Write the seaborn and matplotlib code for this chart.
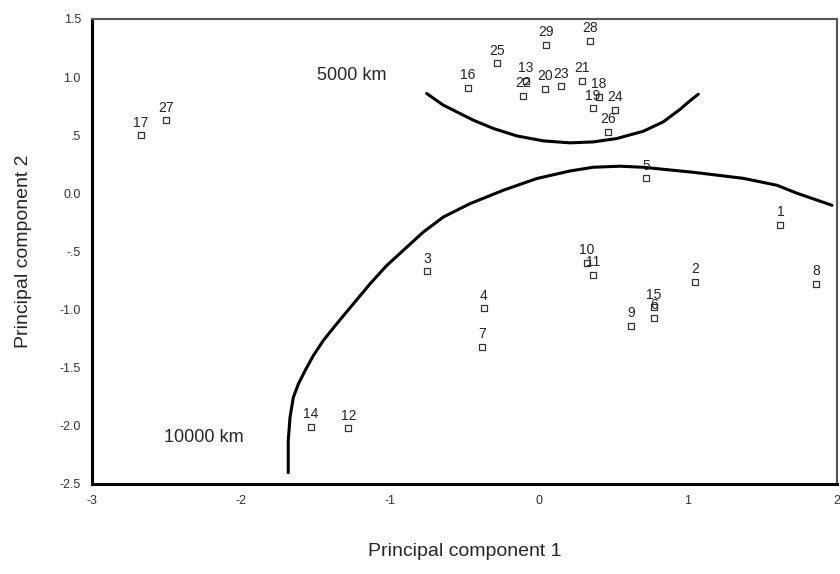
import numpy as np
import pandas as pd
import matplotlib
matplotlib.use('Agg')
import matplotlib.pyplot as plt
import seaborn as sns

# Case numbers and their scores on the first two principal components
case_ids = [1, 2, 3, 4, 5, 6, 7, 8, 9, 10,
            11, 12, 13, 14, 15, 16, 17, 18, 19, 20,
            21, 22, 23, 24, 25, 26, 27, 28, 29]
pc1 = [1.62, 1.05, -0.75, -0.37, 0.72, 0.77, -0.38, 1.86, 0.62, 0.32,
       0.36, -1.28, -0.09, -1.53, 0.77, -0.48, -2.67, 0.40, 0.36, 0.04,
       0.29, -0.11, 0.15, 0.51, -0.28, 0.46, -2.50, 0.34, 0.05]
pc2 = [-0.27, -0.76, -0.67, -0.99, 0.13, -1.07, -1.32, -0.78, -1.14, -0.60,
       -0.70, -2.02, 0.97, -2.01, -0.98, 0.91, 0.50, 0.83, 0.73, 0.90,
       0.97, 0.84, 0.92, 0.72, 1.12, 0.53, 0.63, 1.31, 1.28]

# Hand-drawn distance contours
km5000_x = [-0.754, -0.698, -0.643, -0.553, -0.441, -0.307, -0.150, 0.029,
            0.208, 0.364, 0.521, 0.700, 0.834, 0.946, 1.013, 1.069]
km5000_y = [0.859, 0.808, 0.759, 0.701, 0.629, 0.558, 0.494, 0.451,
            0.434, 0.442, 0.471, 0.534, 0.615, 0.722, 0.796, 0.853]
km10000_x = [-1.683, -1.683, -1.671, -1.649, -1.615, -1.570, -1.515, -1.448, -1.358, -1.246,
             -1.134, -1.022, -0.911, -0.777, -0.642, -0.463, -0.240, -0.015, 0.208, 0.362,
             0.544, 0.698, 1.034, 1.369, 1.597, 1.732, 1.966]
km10000_y = [-2.403, -2.129, -1.928, -1.756, -1.641, -1.526, -1.397, -1.267, -1.123, -0.951,
             -0.779, -0.621, -0.491, -0.334, -0.204, -0.089, 0.026, 0.127, 0.192, 0.224,
             0.233, 0.224, 0.181, 0.129, 0.069, 0.000, -0.103]

x_ticks = [-3, -2, -1, 0, 1, 2]
y_ticks = [1.5, 1.0, 0.5, 0.0, -0.5, -1.0, -1.5, -2.0, -2.5]
y_tick_labels = ['1.5', '1.0', '.5', '0.0', '-.5', '-1.0', '-1.5', '-2.0', '-2.5']

df = pd.DataFrame({'case': case_ids, 'pc1': pc1, 'pc2': pc2})

sns.set_style('white')
plt.rcParams['font.family'] = ['Liberation Sans', 'DejaVu Sans']
plt.rcParams['axes.unicode_minus'] = False

fig = plt.figure(figsize=(8.4, 5.74), dpi=100)
ax = fig.add_axes([0.1095, 0.157, 0.887, 0.810])

sns.scatterplot(data=df, x='pc1', y='pc2', marker='s', s=22,
                facecolor='white', edgecolor='#333333', linewidth=0.9, ax=ax, zorder=3)

for cid, x, y in zip(case_ids, pc1, pc2):
    ax.annotate(str(cid), (x, y), xytext=(0, 4), textcoords='offset points',
                ha='center', va='bottom', fontsize=10, color='#222222')

ax.plot(km5000_x, km5000_y, color='black', lw=2.2, solid_capstyle='round', solid_joinstyle='round')
ax.plot(km10000_x, km10000_y, color='black', lw=2.2, solid_capstyle='round', solid_joinstyle='round')
ax.text(-1.26, 1.01, '5000 km', fontsize=13, ha='center', va='center')
ax.text(-2.25, -2.10, '10000 km', fontsize=13, ha='center', va='center')

ax.set_xlim(-3, 2)
ax.set_ylim(-2.5, 1.5)
ax.set_xticks(x_ticks)
ax.set_yticks(y_ticks)
ax.set_yticklabels(y_tick_labels)
ax.tick_params(axis='both', direction='out', length=4, width=3, labelsize=9, pad=4,
               labelcolor='#333333')

for side in ['left', 'bottom']:
    ax.spines[side].set_linewidth(2.2)
    ax.spines[side].set_color('black')
for side in ['top', 'right']:
    ax.spines[side].set_linewidth(1.5)
    ax.spines[side].set_color('#555555')

ax.set_xlabel('Principal component 1', fontsize=14, labelpad=26)
ax.set_ylabel('Principal component 2', fontsize=14, labelpad=20)

fig.savefig('out.png', dpi=100)
